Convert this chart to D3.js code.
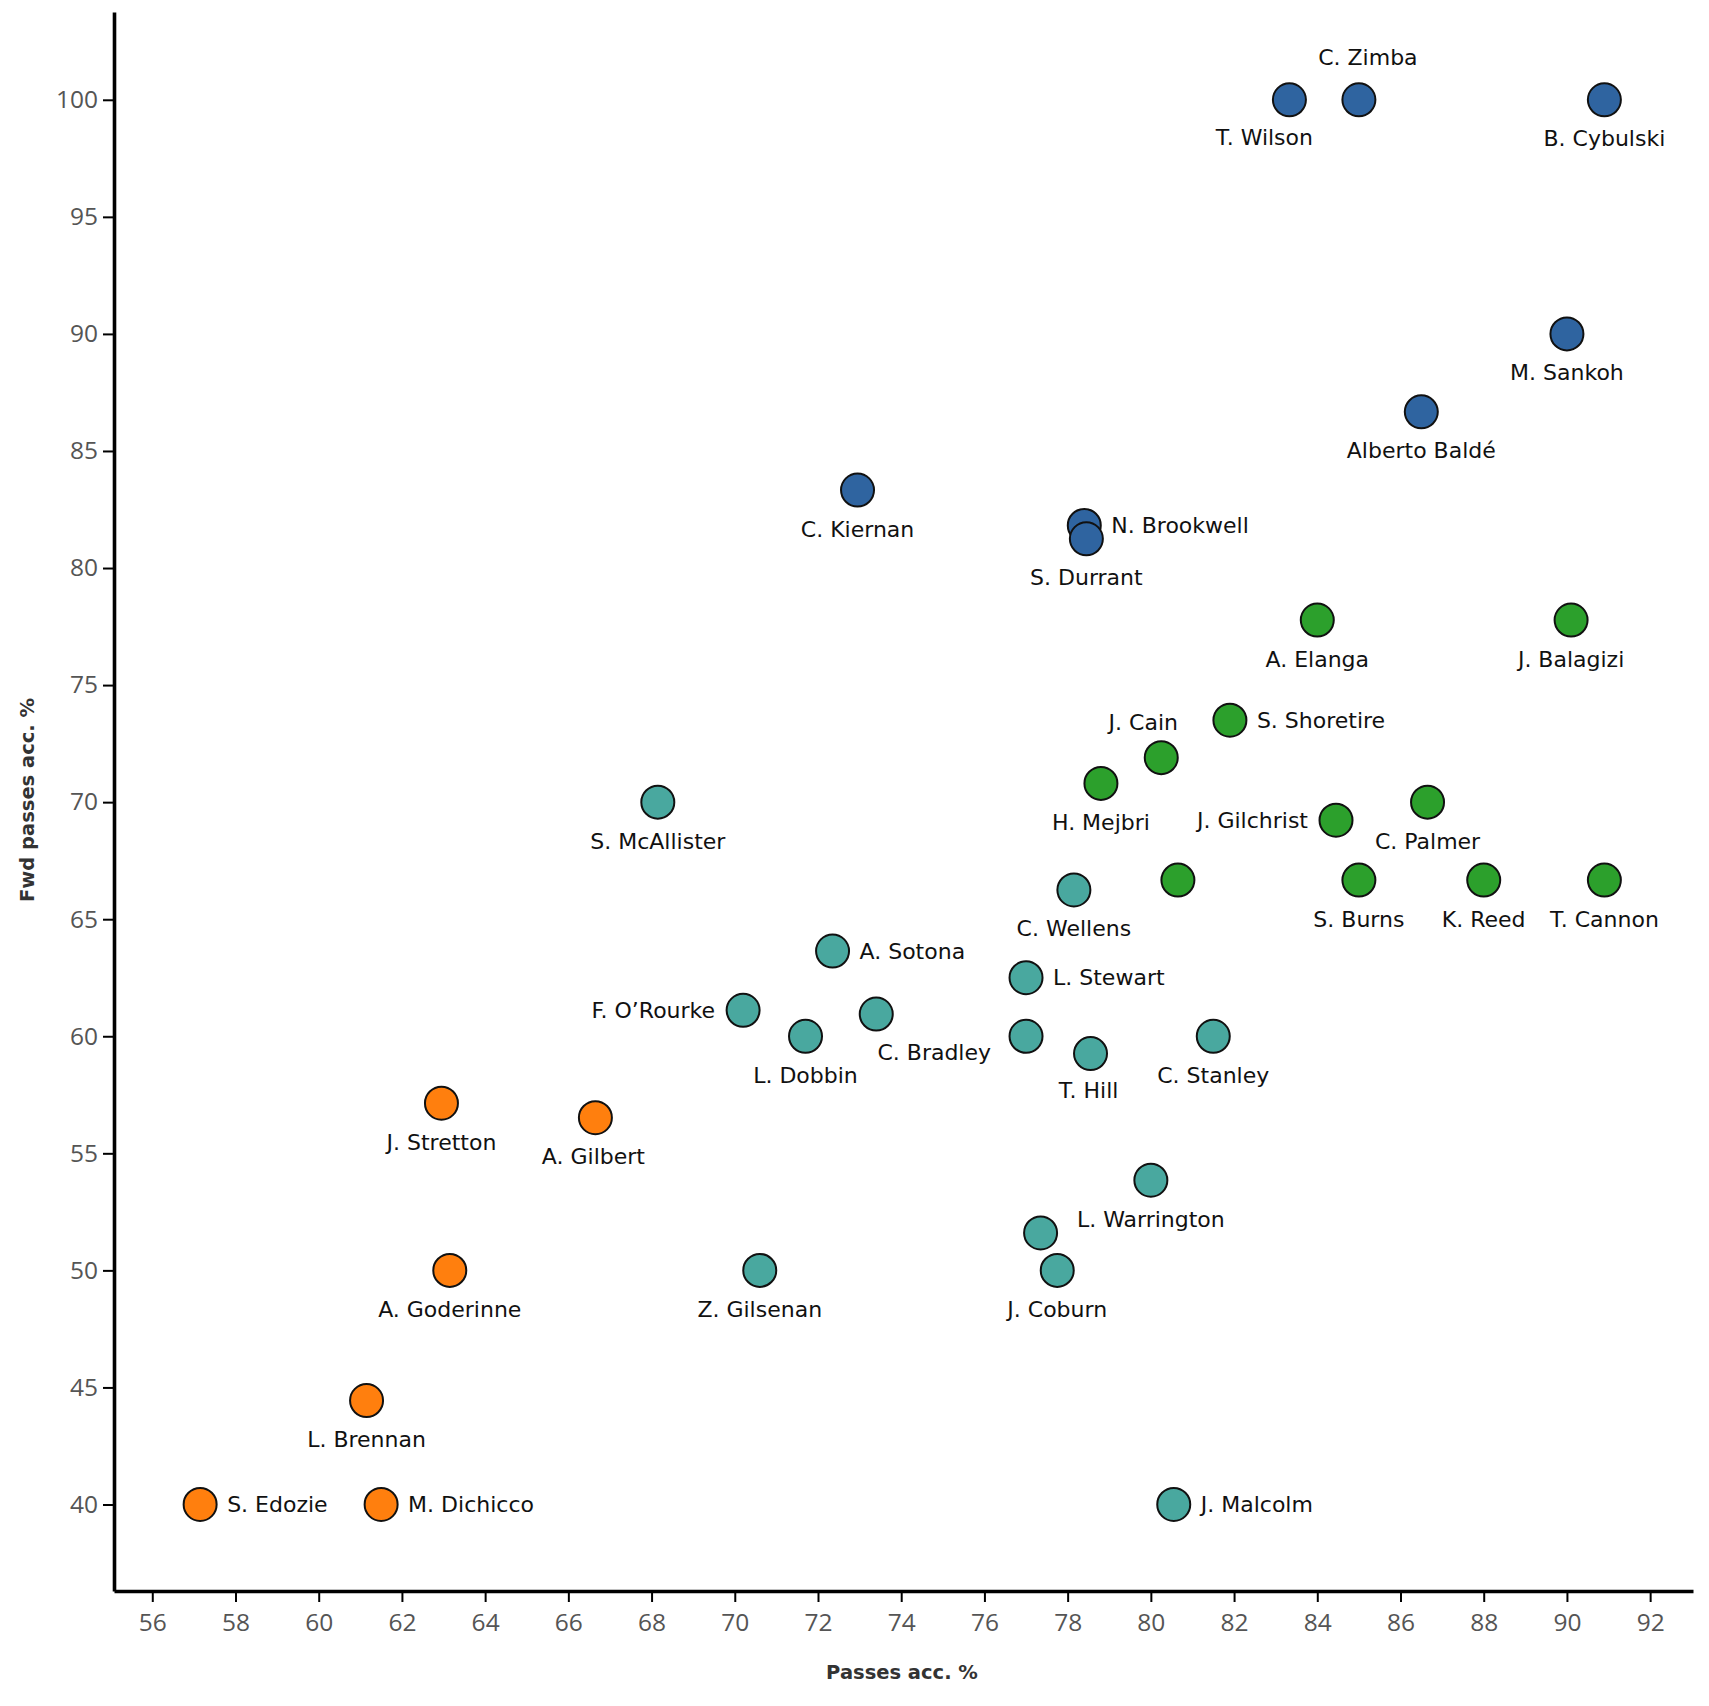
<!DOCTYPE html>
<html>
<head>
<meta charset="utf-8">
<script src="https://cdn.jsdelivr.net/npm/d3@7"></script>
<style>
  html, body { margin: 0; padding: 0; background: #fff; }
  svg { display: block; }
</style>
</head>
<body>
<svg id="chart" width="1709" height="1706"></svg>
<script>
// ---- data ----
const players = ["T. Wilson","C. Zimba","B. Cybulski","M. Sankoh","Alberto Baldé","C. Kiernan","N. Brookwell","S. Durrant",
  "A. Elanga","J. Balagizi","S. Shoretire","J. Cain","H. Mejbri","J. Gilchrist","C. Palmer","","S. Burns","K. Reed","T. Cannon",
  "S. McAllister","C. Wellens","A. Sotona","L. Stewart","F. O’Rourke","C. Bradley","L. Dobbin","","T. Hill","C. Stanley",
  "L. Warrington","","J. Coburn","Z. Gilsenan","J. Malcolm",
  "J. Stretton","A. Gilbert","A. Goderinne","L. Brennan","S. Edozie","M. Dichicco"];
const passesAcc = [83.33,85.0,90.9,90.0,86.5,72.95,78.4,78.45,
  84.0,90.1,81.9,80.25,78.8,84.45,86.65,80.65,85.0,88.0,90.9,
  68.15,78.15,72.35,77.0,70.2,73.4,71.7,77.0,78.55,81.5,
  80.0,77.35,77.75,70.6,80.55,
  62.95,66.65,63.15,61.15,57.15,61.5];
const fwdPassesAcc = [100,100,100,90,86.67,83.33,81.82,81.25,
  77.78,77.78,73.5,71.9,70.8,69.23,70,66.67,66.67,66.67,66.67,
  70,66.25,63.64,62.5,61.11,60.95,60,60,59.26,60,
  53.85,51.6,50,50,40,
  57.14,56.52,50,44.44,40,40];
const groups = ["blue","blue","blue","blue","blue","blue","blue","blue",
  "green","green","green","green","green","green","green","green","green","green","green",
  "teal","teal","teal","teal","teal","teal","teal","teal","teal","teal",
  "teal","teal","teal","teal","teal",
  "orange","orange","orange","orange","orange","orange"];
const xTicks = [56,58,60,62,64,66,68,70,72,74,76,78,80,82,84,86,88,90,92];
const yTicks = [40,45,50,55,60,65,70,75,80,85,90,95,100];
const xTitle = "Passes acc. %";
const yTitle = "Fwd passes acc. %";

// ---- label placement (layout only) ----
const labelSide = ["b","a","b","b","b","b","r","b",
  "b","b","r","a","b","l","b","b","b","b","b",
  "b","b","r","r","l","b","b","b","b","b",
  "b","b","b","b","r",
  "b","b","b","b","r","r"];
const labelNudge = {
  "T. Wilson": [-25, -1],
  "C. Zimba": [9, 0],
  "J. Cain": [-18, 7],
  "C. Bradley": [58, -1],
  "T. Hill": [-2, -2],
  "A. Gilbert": [-2, 0]
};

const colors = { blue: "#2f64a0", green: "#2ca02c", teal: "#49a89f", orange: "#ff7f0e" };

const svg = d3.select("#chart");
const plotL = 114, plotR = 1693, plotT = 12, plotB = 1591;
const x = d3.scaleLinear().domain([55.08, 93.03]).range([plotL, plotR]);
const y = d3.scaleLinear().domain([36.305, 103.75]).range([plotB, plotT]);

// axes
const xAxis = svg.append("g").attr("transform", `translate(0,${plotB})`)
  .call(d3.axisBottom(x).tickValues(xTicks).tickFormat(d3.format("d")).tickSize(11).tickSizeOuter(0).tickPadding(12));
const yAxis = svg.append("g").attr("transform", `translate(${plotL},0)`)
  .call(d3.axisLeft(y).tickValues(yTicks).tickFormat(d3.format("d")).tickSize(11).tickSizeOuter(0).tickPadding(5));
[xAxis, yAxis].forEach(g => {
  g.select(".domain").attr("stroke", "#000").attr("stroke-width", 3.6);
  g.selectAll(".tick line").attr("stroke", "#000").attr("stroke-width", 2);
  g.selectAll(".tick text").attr("fill", "#555").style("font-family", "'Open Sans', sans-serif").style("font-size", "24.5px");
});

svg.append("text").attr("x", 902).attr("y", 1672).attr("text-anchor", "middle").attr("dominant-baseline", "central")
  .style("font-family", "'DejaVu Sans', sans-serif").style("font-weight", "bold").style("font-size", "19.5px").attr("fill", "#333")
  .text(xTitle);
svg.append("text").attr("transform", "translate(27,800) rotate(-90)").attr("text-anchor", "middle").attr("dominant-baseline", "central")
  .style("font-family", "'DejaVu Sans', sans-serif").style("font-weight", "bold").style("font-size", "19.5px").attr("fill", "#333")
  .text(yTitle);

const data = players.map((p, i) => ({ name: p, x: passesAcc[i], y: fwdPassesAcc[i], g: groups[i], side: labelSide[i] }));

// points
svg.append("g").selectAll("circle").data(data).join("circle")
  .attr("cx", d => x(d.x)).attr("cy", d => y(d.y)).attr("r", 16.5)
  .attr("fill", d => colors[d.g]).attr("stroke", "#111").attr("stroke-width", 2);

// labels
const off = { b: [0, 39, "middle"], a: [0, -42, "middle"], r: [27, 0, "start"], l: [-28, 0, "end"] };
svg.append("g").selectAll("text").data(data.filter(d => d.name)).join("text")
  .attr("x", d => x(d.x) + off[d.side][0] + (labelNudge[d.name] ? labelNudge[d.name][0] : 0))
  .attr("y", d => y(d.y) + off[d.side][1] + (labelNudge[d.name] ? labelNudge[d.name][1] : 0))
  .attr("text-anchor", d => off[d.side][2])
  .attr("dominant-baseline", "central")
  .style("font-family", "'DejaVu Sans', sans-serif").style("font-size", "22px").attr("fill", "#111")
  .text(d => d.name);
</script>
</body>
</html>
